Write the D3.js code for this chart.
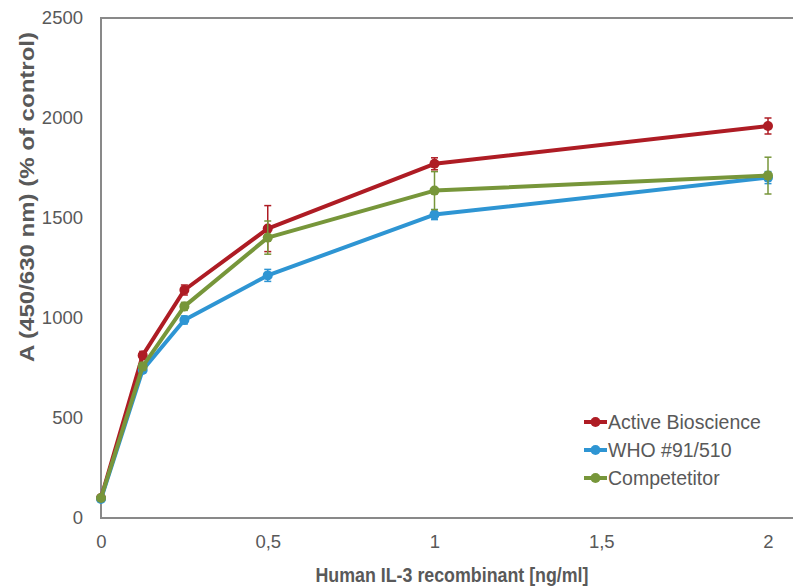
<!DOCTYPE html>
<html>
<head>
<meta charset="UTF-8">
<title>IL-3 dose response</title>
<style>
  body { margin: 0; background: white; font-family: "Liberation Sans", Arial, sans-serif; }
  svg { display: block; }
  .tick text { fill: #595959; font-size: 18.5px; }
  .lbl { fill: #595959; font-size: 21px; font-weight: bold; }
  .leg { fill: #595959; font-size: 19.5px; }
</style>
</head>
<body>
<script src="https://d3js.org/d3.v7.min.js"></script>
<script>
var doses = [0, 0.125, 0.25, 0.5, 1, 2];
var seriesNames = ["Active Bioscience", "WHO #91/510", "Competetitor"];
var colors = ["#ae1c24", "#2e95d3", "#77963a"];
var activeVals = [100, 813, 1140, 1447, 1771, 1960];
var activeErr  = [10, 20, 25, 115, 30, 40];
var whoVals    = [95, 740, 990, 1213, 1517, 1702];
var whoErr     = [10, 15, 20, 30, 25, 30];
var compVals   = [100, 758, 1058, 1402, 1637, 1712];
var compErr    = [10, 20, 20, 83, 95, 92];
var xTicks = [0, 0.5, 1, 1.5, 2];
var xTickLabels = ["0", "0,5", "1", "1,5", "2"];
var yTicks = [0, 500, 1000, 1500, 2000, 2500];

var allVals = [activeVals, whoVals, compVals];
var allErr = [activeErr, whoErr, compErr];

var width = 793, height = 586;
var svg = d3.select("body").append("svg").attr("width", width).attr("height", height);

var x = d3.scaleLinear().domain([0, 2]).range([101, 768]);
var y = d3.scaleLinear().domain([0, 2500]).range([518, 18]);

// frame lines (top, bottom, left)
svg.append("line").attr("x1", 101).attr("x2", width).attr("y1", 18).attr("y2", 18)
  .attr("stroke", "#898989").attr("stroke-width", 2);
svg.append("line").attr("x1", 101).attr("x2", width).attr("y1", 518).attr("y2", 518)
  .attr("stroke", "#898989").attr("stroke-width", 2);
svg.append("line").attr("x1", 101).attr("x2", 101).attr("y1", 17).attr("y2", 519)
  .attr("stroke", "#898989").attr("stroke-width", 2);

var yAxis = svg.append("g").attr("transform", "translate(101,0)")
  .call(d3.axisLeft(y).tickValues(yTicks).tickSize(0).tickPadding(18).tickFormat(d3.format("d")));
yAxis.select(".domain").remove();

var xAxis = svg.append("g").attr("transform", "translate(0,518)")
  .call(d3.axisBottom(x).tickValues(xTicks).tickSize(0).tickPadding(17)
    .tickFormat(function(d, i) { return xTickLabels[i]; }));
xAxis.select(".domain").remove();

svg.append("text").attr("class", "lbl").attr("text-anchor", "middle")
  .attr("transform", "translate(34,197) rotate(-90)")
  .attr("textLength", 330).attr("lengthAdjust", "spacingAndGlyphs")
  .text("A (450/630 nm) (% of control)");
svg.append("text").attr("class", "lbl").attr("text-anchor", "middle")
  .attr("x", 452).attr("y", 582)
  .attr("textLength", 273).attr("lengthAdjust", "spacingAndGlyphs")
  .text("Human IL-3 recombinant [ng/ml]");

var line = d3.line().x(function(d) { return x(d[0]); }).y(function(d) { return y(d[1]); });

allVals.forEach(function(vals, s) {
  var pts = doses.map(function(d, i) { return [d, vals[i], allErr[s][i]]; });
  var g = svg.append("g");
  pts.forEach(function(p) {
    var cx = x(p[0]);
    g.append("line").attr("x1", cx).attr("x2", cx).attr("y1", y(p[1] - p[2])).attr("y2", y(p[1] + p[2]))
      .attr("stroke", colors[s]).attr("stroke-width", 1.5);
    [p[1] - p[2], p[1] + p[2]].forEach(function(v) {
      g.append("line").attr("x1", cx - 3.5).attr("x2", cx + 3.5).attr("y1", y(v)).attr("y2", y(v))
        .attr("stroke", colors[s]).attr("stroke-width", 1.5);
    });
  });
  g.append("path").datum(pts).attr("d", line).attr("fill", "none")
    .attr("stroke", colors[s]).attr("stroke-width", 4).attr("stroke-linejoin", "round");
  g.selectAll("circle").data(pts).enter().append("circle")
    .attr("cx", function(d) { return x(d[0]); }).attr("cy", function(d) { return y(d[1]); })
    .attr("r", 5).attr("fill", colors[s]);
});

// legend
var leg = svg.append("g").attr("transform", "translate(584,422)");
seriesNames.forEach(function(n, i) {
  var row = leg.append("g").attr("transform", "translate(0," + (i * 28) + ")");
  row.append("line").attr("x1", 0).attr("x2", 23).attr("stroke", colors[i]).attr("stroke-width", 4);
  row.append("circle").attr("cx", 11.5).attr("r", 5).attr("fill", colors[i]);
  row.append("text").attr("class", "leg").attr("x", 24).attr("y", 7).text(n);
});
</script>
</body>
</html>
